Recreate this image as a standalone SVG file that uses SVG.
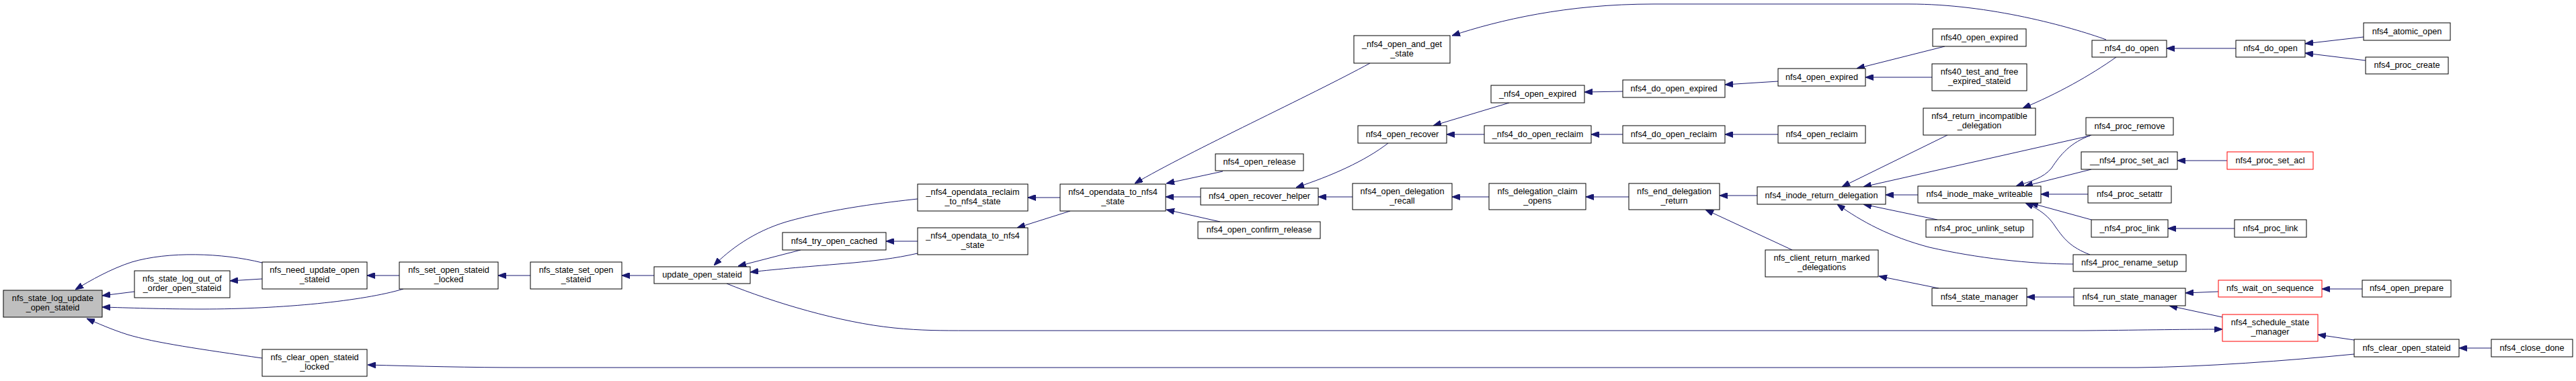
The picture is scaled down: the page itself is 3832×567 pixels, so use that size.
<svg xmlns="http://www.w3.org/2000/svg" width="3832" height="567" viewBox="0 0 3832 567">
<style>
.n rect{fill:#fff;stroke:#000;stroke-width:1}
.n.m rect{fill:#bfbfbf}
.n.r rect{stroke:#ff0000}
.n text{font-family:"Liberation Sans",Arial,sans-serif;font-size:12.7px;fill:#000;text-anchor:middle}
#edges path{fill:none;stroke:#191970;stroke-width:1;marker-end:url(#ah)}
</style>
<defs>
<marker id="ah" markerWidth="12" markerHeight="9" refX="12" refY="4.5" orient="auto" markerUnits="userSpaceOnUse">
<path d="M0,0 L12,4.5 L0,9 z" fill="#191970" stroke="#191970" stroke-width="1"/>
</marker>
</defs>
<rect width="3832" height="567" fill="#fff"/>
<g id="edges">
<path d="M390,391 C330,376 250,374 196,390 C165,400 135,417 112,431"/>
<path d="M200,434 L152,440"/>
<path d="M600,430 C540,448 420,460 300,460 C240,460 190,458 152,457"/>
<path d="M390,533 C300,520 230,510 190,498 C165,490 145,481 129,474"/>
<path d="M390,415 L342,418"/>
<path d="M594,410 L546,410"/>
<path d="M789,410 L741,410"/>
<path d="M973,410 L925,410"/>
<path d="M1365,296 C1320,301 1240,310 1170,330 C1120,345 1085,372 1062,395"/>
<path d="M1191,372 L1098,396"/>
<path d="M1365,377 C1330,385 1300,388 1270,391 C1200,397 1160,400 1116,405"/>
<path d="M1081,422 C1150,450 1250,480 1330,488 C1370,492 1400,492 1440,492 L3100,492 C3200,491 3250,490 3306,490"/>
<path d="M1365,359 L1318,359"/>
<path d="M1577,294 L1529,294"/>
<path d="M1592,314 L1513,339"/>
<path d="M2038,94 C1950,142 1770,225 1688,273"/>
<path d="M1819,255 L1735,273"/>
<path d="M1786,293 L1734,293"/>
<path d="M1815,330 L1735,312"/>
<path d="M3133,59 C3080,40 2960,6 2840,6 L2460,6 C2330,6 2230,30 2160,53"/>
<path d="M2065,213 C2030,240 1980,262 1928,279"/>
<path d="M2245,153 L2132,187"/>
<path d="M2208,200 L2152,200"/>
<path d="M2012,293 L1961,293"/>
<path d="M2215,293 L2160,293"/>
<path d="M2423,293 L2359,293"/>
<path d="M2414,136 L2357,137"/>
<path d="M2414,200 L2367,200"/>
<path d="M2645,121 L2566,126"/>
<path d="M2645,200 L2566,200"/>
<path d="M2893,69 L2762,102"/>
<path d="M2874,115 L2775,115"/>
<path d="M2614,291 L2558,291"/>
<path d="M2666,372 L2537,312"/>
<path d="M2897,201 L2740,278"/>
<path d="M3109,202 L2772,278"/>
<path d="M2853,290 L2805,290"/>
<path d="M2882,327 L2772,304"/>
<path d="M3084,393 C3020,393 2940,384 2870,368 C2810,352 2770,330 2733,304"/>
<path d="M3148,85 C3110,112 3060,140 3009,161"/>
<path d="M3111,201 C3080,212 3065,230 3052,250 C3040,265 3020,270 2999,277"/>
<path d="M3111,252 L3012,277"/>
<path d="M3106,289 L3036,289"/>
<path d="M3111,327 L3020,302"/>
<path d="M3109,379 C3080,368 3070,355 3058,338 C3048,322 3035,312 3013,302"/>
<path d="M3326,72 L3223,72"/>
<path d="M3516,55 L3429,65"/>
<path d="M3519,90 L3429,79"/>
<path d="M3313,239 L3239,239"/>
<path d="M3324,340 L3225,340"/>
<path d="M2884,429 L2795,411"/>
<path d="M3085,442 L3015,442"/>
<path d="M3300,434 L3251,436"/>
<path d="M3306,472 L3227,455"/>
<path d="M3514,430 L3454,430"/>
<path d="M3502,506 L3448,498"/>
<path d="M3502,527 C3400,537 3280,546 3180,547 L780,547 C700,547 620,545 547,543"/>
<path d="M3706,518 L3658,518"/>
</g>
<g id="n1" class="n m"><rect x="5" y="432" width="147" height="40"/><text x="78.5" y="448">nfs_state_log_update</text><text x="78.5" y="462">_open_stateid</text></g>
<g id="n2" class="n"><rect x="200" y="403" width="142" height="40"/><text x="271" y="419">nfs_state_log_out_of</text><text x="271" y="433">_order_open_stateid</text></g>
<g id="n3" class="n"><rect x="390" y="390" width="156" height="40"/><text x="468" y="406">nfs_need_update_open</text><text x="468" y="420">_stateid</text></g>
<g id="n4" class="n"><rect x="594" y="390" width="147" height="40"/><text x="667.5" y="406">nfs_set_open_stateid</text><text x="667.5" y="420">_locked</text></g>
<g id="n5" class="n"><rect x="390" y="520" width="156" height="40"/><text x="468" y="536">nfs_clear_open_stateid</text><text x="468" y="550">_locked</text></g>
<g id="n6" class="n"><rect x="789" y="390" width="136" height="40"/><text x="857" y="406">nfs_state_set_open</text><text x="857" y="420">_stateid</text></g>
<g id="n7" class="n"><rect x="973" y="397" width="143" height="25"/><text x="1044.5" y="413">update_open_stateid</text></g>
<g id="n8" class="n"><rect x="1164" y="346" width="154" height="26"/><text x="1241" y="362.5">nfs4_try_open_cached</text></g>
<g id="n9" class="n"><rect x="1365" y="274" width="164" height="40"/><text x="1447" y="290">_nfs4_opendata_reclaim</text><text x="1447" y="304">_to_nfs4_state</text></g>
<g id="n10" class="n"><rect x="1577" y="274" width="157" height="40"/><text x="1655.5" y="290">nfs4_opendata_to_nfs4</text><text x="1655.5" y="304">_state</text></g>
<g id="n11" class="n"><rect x="1365" y="339" width="164" height="40"/><text x="1447" y="355">_nfs4_opendata_to_nfs4</text><text x="1447" y="369">_state</text></g>
<g id="n12" class="n"><rect x="1808" y="229" width="131" height="25"/><text x="1873.5" y="245">nfs4_open_release</text></g>
<g id="n13" class="n"><rect x="1786" y="280" width="175" height="25"/><text x="1873.5" y="296">nfs4_open_recover_helper</text></g>
<g id="n14" class="n"><rect x="1782" y="330" width="182" height="25"/><text x="1873" y="346">nfs4_open_confirm_release</text></g>
<g id="n15" class="n"><rect x="2014" y="53" width="143" height="41"/><text x="2085.5" y="69.5">_nfs4_open_and_get</text><text x="2085.5" y="83.5">_state</text></g>
<g id="n16" class="n"><rect x="2020" y="187" width="132" height="26"/><text x="2086" y="203.5">nfs4_open_recover</text></g>
<g id="n17" class="n"><rect x="2218" y="127" width="139" height="26"/><text x="2287.5" y="143.5">_nfs4_open_expired</text></g>
<g id="n18" class="n"><rect x="2208" y="187" width="159" height="26"/><text x="2287.5" y="203.5">_nfs4_do_open_reclaim</text></g>
<g id="n19" class="n"><rect x="2012" y="273" width="148" height="39"/><text x="2086" y="288.5">nfs4_open_delegation</text><text x="2086" y="302.5">_recall</text></g>
<g id="n20" class="n"><rect x="2215" y="273" width="144" height="39"/><text x="2287" y="288.5">nfs_delegation_claim</text><text x="2287" y="302.5">_opens</text></g>
<g id="n21" class="n"><rect x="2423" y="273" width="135" height="39"/><text x="2490.5" y="288.5">nfs_end_delegation</text><text x="2490.5" y="302.5">_return</text></g>
<g id="n22" class="n"><rect x="2414" y="119" width="152" height="26"/><text x="2490" y="135.5">nfs4_do_open_expired</text></g>
<g id="n23" class="n"><rect x="2414" y="187" width="152" height="26"/><text x="2490" y="203.5">nfs4_do_open_reclaim</text></g>
<g id="n24" class="n"><rect x="2645" y="102" width="130" height="26"/><text x="2710" y="118.5">nfs4_open_expired</text></g>
<g id="n25" class="n"><rect x="2645" y="187" width="130" height="26"/><text x="2710" y="203.5">nfs4_open_reclaim</text></g>
<g id="n26" class="n"><rect x="2875" y="43" width="139" height="26"/><text x="2944.5" y="59.5">nfs40_open_expired</text></g>
<g id="n27" class="n"><rect x="2874" y="95" width="141" height="40"/><text x="2944.5" y="111">nfs40_test_and_free</text><text x="2944.5" y="125">_expired_stateid</text></g>
<g id="n28" class="n"><rect x="2861" y="161" width="167" height="40"/><text x="2944.5" y="177">nfs4_return_incompatible</text><text x="2944.5" y="191">_delegation</text></g>
<g id="n29" class="n"><rect x="2614" y="278" width="191" height="26"/><text x="2709.5" y="294.5">nfs4_inode_return_delegation</text></g>
<g id="n30" class="n"><rect x="2853" y="277" width="183" height="25"/><text x="2944.5" y="293">nfs4_inode_make_writeable</text></g>
<g id="n31" class="n"><rect x="2626" y="372" width="168" height="40"/><text x="2710" y="388">nfs_client_return_marked</text><text x="2710" y="402">_delegations</text></g>
<g id="n32" class="n"><rect x="2874" y="429" width="141" height="26"/><text x="2944.5" y="445.5">nfs4_state_manager</text></g>
<g id="n33" class="n"><rect x="2865" y="327" width="159" height="26"/><text x="2944.5" y="343.5">nfs4_proc_unlink_setup</text></g>
<g id="n34" class="n"><rect x="3112" y="60" width="111" height="25"/><text x="3167.5" y="76">_nfs4_do_open</text></g>
<g id="n35" class="n"><rect x="3326" y="60" width="103" height="25"/><text x="3377.5" y="76">nfs4_do_open</text></g>
<g id="n36" class="n"><rect x="3516" y="34" width="129" height="26"/><text x="3580.5" y="50.5">nfs4_atomic_open</text></g>
<g id="n37" class="n"><rect x="3519" y="85" width="123" height="25"/><text x="3580.5" y="101">nfs4_proc_create</text></g>
<g id="n38" class="n"><rect x="3103" y="175" width="130" height="26"/><text x="3168" y="191.5">nfs4_proc_remove</text></g>
<g id="n39" class="n"><rect x="3096" y="226" width="143" height="26"/><text x="3167.5" y="242.5">__nfs4_proc_set_acl</text></g>
<g id="n40" class="n r"><rect x="3313" y="226" width="128" height="26"/><text x="3377" y="242.5">nfs4_proc_set_acl</text></g>
<g id="n41" class="n"><rect x="3106" y="277" width="124" height="25"/><text x="3168" y="293">nfs4_proc_setattr</text></g>
<g id="n42" class="n"><rect x="3111" y="327" width="114" height="26"/><text x="3168" y="343.5">_nfs4_proc_link</text></g>
<g id="n43" class="n"><rect x="3324" y="327" width="107" height="26"/><text x="3377.5" y="343.5">nfs4_proc_link</text></g>
<g id="n44" class="n"><rect x="3084" y="379" width="168" height="25"/><text x="3168" y="395">nfs4_proc_rename_setup</text></g>
<g id="n45" class="n"><rect x="3085" y="429" width="166" height="26"/><text x="3168" y="445.5">nfs4_run_state_manager</text></g>
<g id="n46" class="n r"><rect x="3300" y="417" width="154" height="25"/><text x="3377" y="433">nfs_wait_on_sequence</text></g>
<g id="n47" class="n"><rect x="3514" y="417" width="132" height="25"/><text x="3580" y="433">nfs4_open_prepare</text></g>
<g id="n48" class="n r"><rect x="3306" y="468" width="142" height="40"/><text x="3377" y="484">nfs4_schedule_state</text><text x="3377" y="498">_manager</text></g>
<g id="n49" class="n"><rect x="3502" y="505" width="156" height="26"/><text x="3580" y="521.5">nfs_clear_open_stateid</text></g>
<g id="n50" class="n"><rect x="3706" y="505" width="121" height="26"/><text x="3766.5" y="521.5">nfs4_close_done</text></g>
</svg>
